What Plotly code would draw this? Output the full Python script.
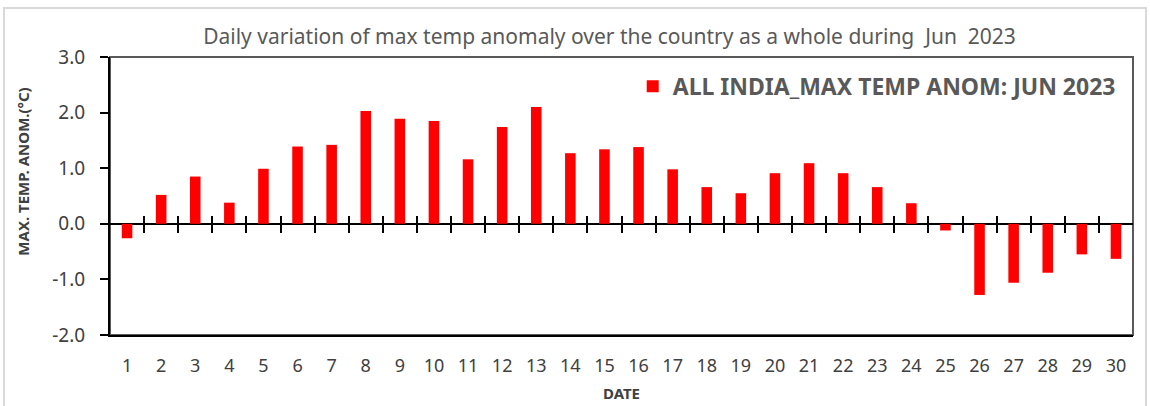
import plotly.graph_objects as go

days = list(range(1, 31))
day_labels = [str(d) for d in days]
anomaly = [-0.26, 0.52, 0.85, 0.38, 0.99, 1.39, 1.42, 2.03, 1.89, 1.85,
           1.16, 1.74, 2.10, 1.27, 1.34, 1.38, 0.98, 0.66, 0.55, 0.91,
           1.09, 0.91, 0.66, 0.37, -0.12, -1.28, -1.06, -0.88, -0.55, -0.63]
y_ticks = [-2, -1, 0, 1, 2, 3]
y_tick_labels = ["-2.0", "-1.0", "0.0", "1.0", "2.0", "3.0"]
boundary_ticks = [d + 0.5 for d in days[:-1]]

title_text = "Daily variation of max temp anomaly over the country as a whole during  Jun  2023"
series_name = "ALL INDIA_MAX TEMP ANOM: JUN 2023"
y_title = "MAX. TEMP. ANOM.(°C)"
x_title = "DATE"

FONT = "Noto Sans"
GREY = "#595959"
DARK = "#404040"

fig = go.Figure()
fig.add_trace(go.Bar(
    x=days, y=anomaly, name=series_name,
    marker=dict(color="#FF0000", line=dict(width=0)),
    width=0.31, showlegend=True,
))

fig.update_layout(
    width=1150, height=406,
    margin=dict(l=110, r=17, t=57, b=71),
    paper_bgcolor="white", plot_bgcolor="white",
    font=dict(family=FONT, color=DARK),
    title=dict(text=title_text, x=0.530, xanchor="center", y=0.909, yanchor="middle",
               font=dict(family=FONT, size=21, color=GREY)),
    showlegend=True,
    legend=dict(x=0.988, xanchor="right", y=0.972, yanchor="top",
                bgcolor="rgba(0,0,0,0)",
                font=dict(family=FONT, size=23, color=GREY, weight="bold"),
                itemwidth=30),
    xaxis=dict(
        range=[0.5, 30.5], tickmode="array", tickvals=days, ticktext=day_labels,
        showgrid=False, zeroline=False, showline=True, linecolor="black", linewidth=2,
        ticks="", tickfont=dict(size=18, color=DARK), ticklabelstandoff=13,
        automargin=False,
        title=dict(text=x_title, font=dict(size=15, color=DARK, weight="bold"), standoff=13),
    ),
    xaxis2=dict(
        overlaying="x", anchor="free", position=0.4, range=[0.5, 30.5],
        tickmode="array", tickvals=boundary_ticks,
        ticks="outside", ticklen=8, tickwidth=2, tickcolor="black",
        showticklabels=False, showgrid=False, zeroline=False, showline=False,
    ),
    xaxis3=dict(
        overlaying="x", anchor="free", position=0.4, range=[0.5, 30.5],
        tickmode="array", tickvals=boundary_ticks,
        ticks="inside", ticklen=8, tickwidth=2, tickcolor="black",
        showticklabels=False, showgrid=False, zeroline=False, showline=False,
    ),
    yaxis=dict(
        range=[-2, 3], tickmode="array", tickvals=y_ticks, ticktext=y_tick_labels,
        showgrid=False, zeroline=True, zerolinecolor="black", zerolinewidth=2,
        showline=True, linecolor="black", linewidth=2,
        ticks="outside", ticklen=8, tickwidth=2, tickcolor="black",
        tickfont=dict(size=19, color=DARK), ticklabelstandoff=11,
        automargin=False,
    ),
    annotations=[
        dict(text=y_title, textangle=-90, xref="paper", yref="paper",
             x=-0.0845, y=0.586, xanchor="center", yanchor="middle", showarrow=False,
             font=dict(family=FONT, size=15, color=DARK, weight="bold")),
    ],
    shapes=[
        dict(type="rect", xref="x domain", yref="y domain", x0=0, x1=1, y0=0, y1=1,
             line=dict(color=GREY, width=2), layer="below"),
        dict(type="rect", xref="paper", yref="paper", x0=-0.1036, x1=1.0127, y0=-0.3, y1=1.176,
             line=dict(color="#D9D9D9", width=2), layer="below"),
    ],
)

# invisible helper traces so the overlay tick axes render
fig.add_trace(go.Scatter(x=[1], y=[0], xaxis="x2", mode="markers", marker=dict(opacity=0), showlegend=False, hoverinfo="skip"))
fig.add_trace(go.Scatter(x=[1], y=[0], xaxis="x3", mode="markers", marker=dict(opacity=0), showlegend=False, hoverinfo="skip"))

fig.write_html("out.html", config={"displayModeBar": False},
               post_script="document.body.style.margin='0';")
